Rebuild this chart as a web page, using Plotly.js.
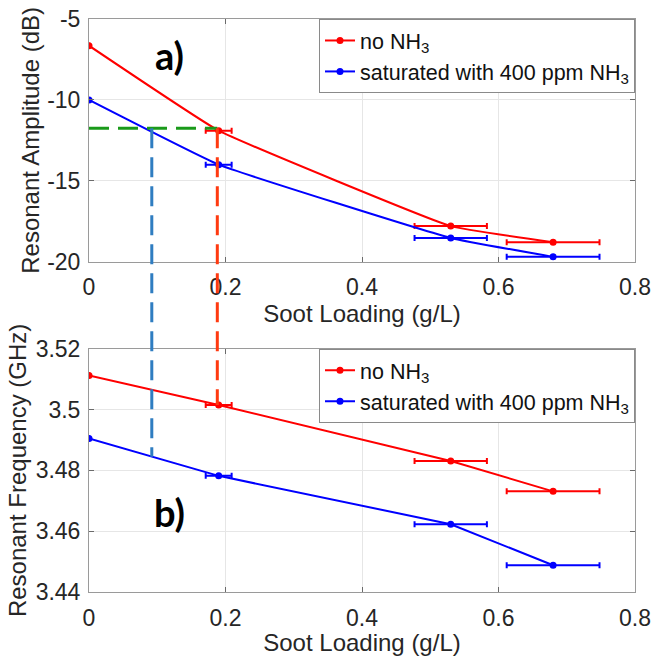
<!DOCTYPE html>
<html>
<head>
<meta charset="utf-8">
<script src="https://cdn.plot.ly/plotly-3.0.1.min.js"></script>
<style>html,body{margin:0;padding:0;background:#fff;}#chart{width:654px;height:656px;}</style>
</head>
<body>
<div id="chart"></div>
<script>
// ---- data ----
var sootLoading = [0, 0.19, 0.53, 0.68];
var sootError = [0, 0.019, 0.053, 0.068];
var ampNoNH3 = [-6.65, -11.9, -17.8, -18.8];
var ampNH3 = [-10.0, -14.0, -18.53, -19.7];
var freqNoNH3 = [3.5112, 3.5015, 3.4831, 3.4731];
var freqNH3 = [3.4905, 3.4782, 3.4623, 3.4488];
var xTicks = [0, 0.2, 0.4, 0.6, 0.8];
var xTickLabels = ['0', '0.2', '0.4', '0.6', '0.8'];
var ampTicks = [-20, -15, -10, -5];
var ampTickLabels = ['-20', '-15', '-10', '-5'];
var freqTicks = [3.44, 3.46, 3.48, 3.5, 3.52];
var freqTickLabels = ['3.44', '3.46', '3.48', '3.5', '3.52'];
var seriesNames = ['no NH<sub>3</sub>', 'saturated with 400 ppm NH<sub>3</sub>'];
// guide lines: amplitude level, soot loadings read at that level, and matching frequencies
var guideAmp = -11.75;
var guideSoot = [0.092, 0.188];
var guideFreq = [3.4845, 3.5015];

var ampRange = [-20, -5];
var freqRange = [3.44, 3.52];
var topDomain = [0.5764, 1];
var botDomain = [0, 0.4245];

function paperY(v, range, dom) {
  return dom[0] + (v - range[0]) / (range[1] - range[0]) * (dom[1] - dom[0]);
}

var red = '#ff0000', blue = '#0000ff';
function tr(y, color, xa, ya, name, legend, shape) {
  return {
    x: sootLoading, y: y, xaxis: xa, yaxis: ya, name: name, legend: legend,
    type: 'scatter', mode: 'lines+markers',
    line: {color: color, width: 2, shape: shape, smoothing: 0.3},
    marker: {color: color, size: 7},
    error_x: {type: 'data', array: sootError, visible: true, color: color, thickness: 2, width: 3}
  };
}

var data = [
  tr(ampNoNH3, red, 'x', 'y', seriesNames[0], 'legend', 'spline'),
  tr(ampNH3, blue, 'x', 'y', seriesNames[1], 'legend', 'spline'),
  tr(freqNoNH3, red, 'x2', 'y2', seriesNames[0], 'legend2', 'linear'),
  tr(freqNH3, blue, 'x2', 'y2', seriesNames[1], 'legend2', 'linear')
];

var fontFam = 'Liberation Sans, Arial, sans-serif';
var tickFont = {family: fontFam, size: 23, color: '#262626'};
var titleFont = {family: fontFam, size: 24, color: '#262626'};
var axCommon = {
  showline: true, linecolor: '#9a9a9a', linewidth: 1, mirror: 'ticks',
  ticks: 'inside', ticklen: 5, tickcolor: '#6a6a6a',
  showgrid: true, gridcolor: '#e6e6e6', zeroline: false,
  tickfont: tickFont
};
function ax(extra) { return Object.assign({}, axCommon, extra); }

var dash = '20px,9px';
var legendStyle = {x: 1, xanchor: 'right', yanchor: 'top', bgcolor: '#fff', bordercolor: '#8a8a8a', borderwidth: 1,
    font: {family: fontFam, size: 21.5, color: '#111'}, tracegroupgap: 0, itemwidth: 30};
var layout = {
  width: 654, height: 656,
  margin: {l: 89, r: 19, t: 19, b: 64},
  paper_bgcolor: '#fff', plot_bgcolor: '#fff',
  showlegend: true,
  xaxis: ax({domain: [0, 1], range: [0, 0.8], tickvals: xTicks, ticktext: xTickLabels, anchor: 'y',
    ticklabelstandoff: 5,
    title: {text: 'Soot Loading (g/L)', font: titleFont, standoff: 4}}),
  yaxis: ax({domain: topDomain, range: ampRange, tickvals: ampTicks, ticktext: ampTickLabels, anchor: 'x',
    ticklabelstandoff: 3,
    title: {text: 'Resonant Amplitude (dB)', font: titleFont, standoff: 0}}),
  xaxis2: ax({domain: [0, 1], range: [0, 0.8], tickvals: xTicks, ticktext: xTickLabels, anchor: 'y2',
    ticklabelstandoff: 5,
    title: {text: 'Soot Loading (g/L)', font: titleFont, standoff: 4}}),
  yaxis2: ax({domain: botDomain, range: freqRange, tickvals: freqTicks, ticktext: freqTickLabels, anchor: 'x2',
    ticklabelstandoff: 3,
    title: {text: 'Resonant Frequency (GHz)', font: titleFont, standoff: 2}}),
  legend: Object.assign({}, legendStyle, {y: 1}),
  legend2: Object.assign({}, legendStyle, {y: botDomain[1]}),
  annotations: [
    {text: '<b>a)</b>', xref: 'x', yref: 'y', x: 0.118, y: -7.25, showarrow: false, xanchor: 'center',
      font: {family: 'Lato, Open Sans, sans-serif', size: 38, color: '#000'}},
    {text: '<b>b)</b>', xref: 'x2', yref: 'y2', x: 0.118, y: 3.4662, showarrow: false, xanchor: 'center',
      font: {family: 'Lato, Open Sans, sans-serif', size: 38, color: '#000'}}
  ],
  shapes: [
    {type: 'line', xref: 'x', yref: 'y', x0: 0, x1: guideSoot[1], y0: guideAmp, y1: guideAmp,
      line: {color: '#1a9a1a', width: 3, dash: dash}},
    {type: 'line', xref: 'x', yref: 'paper', x0: guideSoot[0], x1: guideSoot[0],
      y0: paperY(guideAmp, ampRange, topDomain), y1: paperY(guideFreq[0], freqRange, botDomain),
      line: {color: '#2f7dc1', width: 3, dash: dash}},
    {type: 'line', xref: 'x', yref: 'paper', x0: guideSoot[1], x1: guideSoot[1],
      y0: paperY(guideAmp, ampRange, topDomain), y1: paperY(guideFreq[1], freqRange, botDomain),
      line: {color: '#ff3a10', width: 3, dash: dash}}
  ]
};

Plotly.newPlot('chart', data, layout, {displayModeBar: false, staticPlot: true});
</script>
</body>
</html>
